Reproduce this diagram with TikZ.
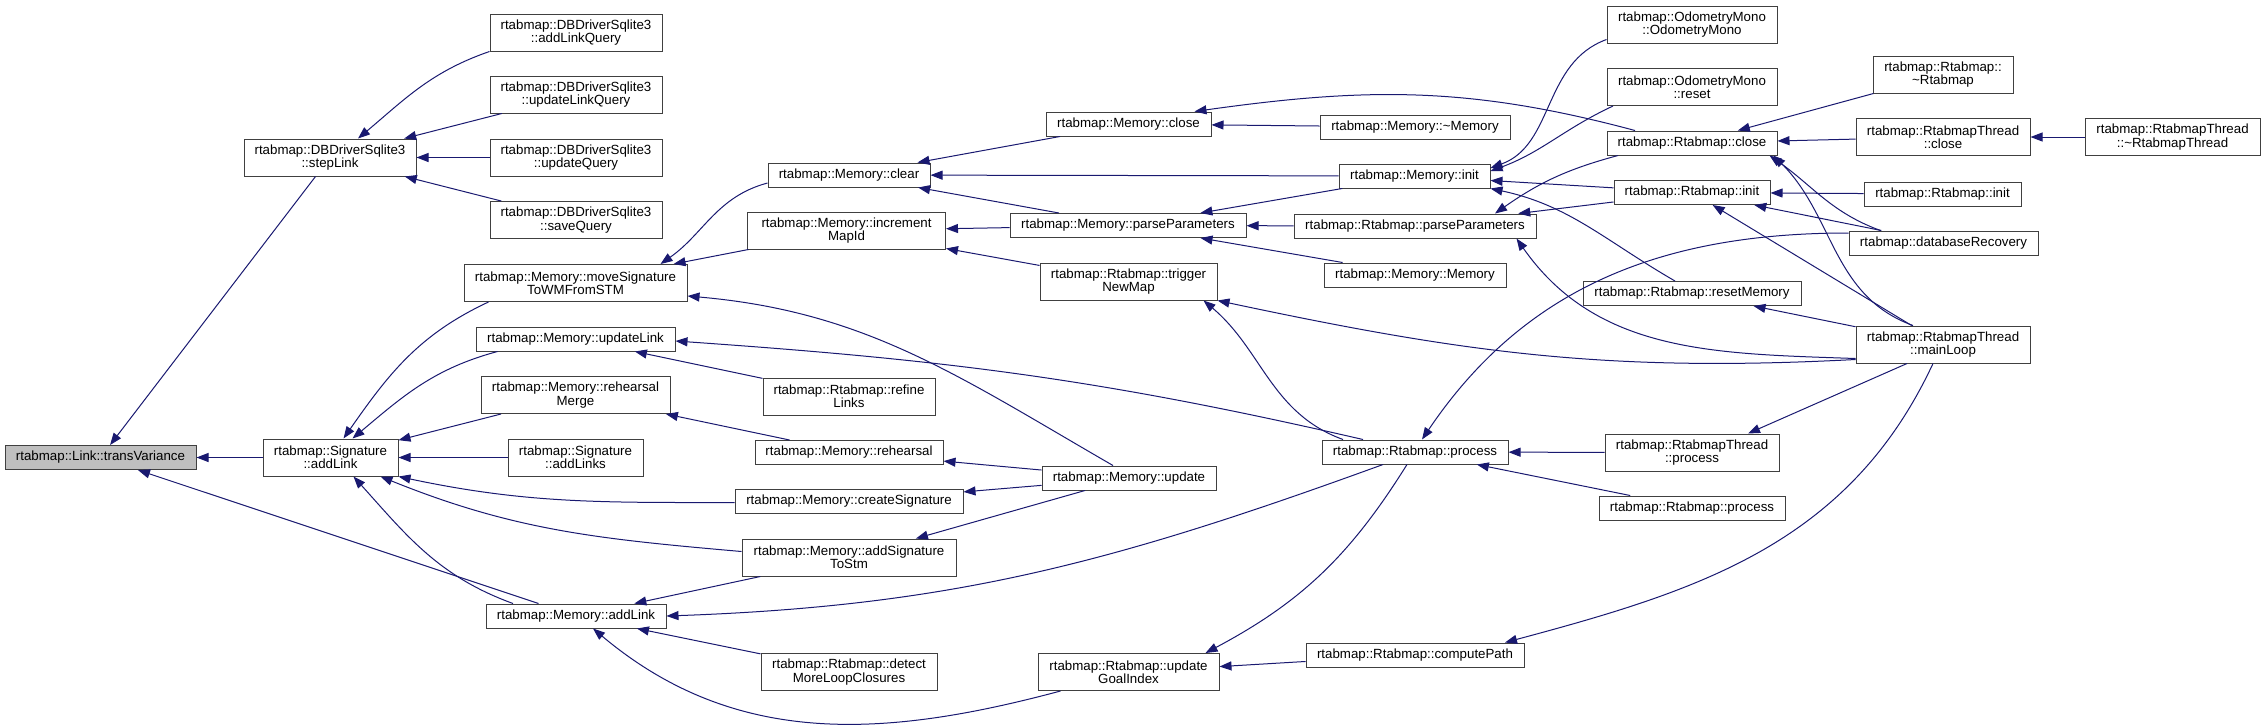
\documentclass[tikz,border=0pt]{standalone}
\usepackage{fontspec}
\setmainfont{Liberation Sans}
\usepackage{tikz}
\definecolor{edgeblue}{RGB}{25,25,112}
\definecolor{boxgray}{RGB}{191,191,191}
\usetikzlibrary{arrows.meta}

\begin{document}
\begin{tikzpicture}[x=1pt, y=1pt, >={Triangle[length=12pt, width=9pt]},
    func/.style={draw=black!75, line width=1pt, inner sep=0pt, align=center,
                 font=\fontsize{13.3}{13.3}\selectfont},
    one/.style={func, minimum height=24pt},
    two/.style={func, minimum height=37pt},
    call/.style={<-, draw=edgeblue, line width=1pt}]
    \useasboundingbox (0,0) rectangle (2265,-724);
    % Gọi đến hàm gốc
    \node[one, fill=boxgray, minimum width=191pt] (tv) at (100.5,-457.5) {rtabmap::Link::transVariance};
    \node[two, minimum width=172pt] (steplink) at (330,-157.5) {rtabmap::DBDriverSqlite3\\::stepLink};
    \node[two, minimum width=135pt] (sigaddlink) at (330.5,-457.5) {rtabmap::Signature\\::addLink};
    \node[one, minimum width=180pt] (memaddlink) at (576,-616) {rtabmap::Memory::addLink};
    % Cột 3
    \node[two, minimum width=172pt] (addlinkq) at (576,-32.5) {rtabmap::DBDriverSqlite3\\::addLinkQuery};
    \node[two, minimum width=172pt] (updlinkq) at (576,-94.5) {rtabmap::DBDriverSqlite3\\::updateLinkQuery};
    \node[two, minimum width=172pt] (updq) at (576,-157.5) {rtabmap::DBDriverSqlite3\\::updateQuery};
    \node[two, minimum width=172pt] (saveq) at (576,-220) {rtabmap::DBDriverSqlite3\\::saveQuery};
    \node[two, minimum width=223pt] (movesig) at (575.5,-283) {rtabmap::Memory::moveSignature\\ToWMFromSTM};
    \node[one, minimum width=199pt] (updlink) at (575.5,-339) {rtabmap::Memory::updateLink};
    \node[two, minimum width=189pt] (rehmerge) at (575.5,-395) {rtabmap::Memory::rehearsal\\Merge};
    \node[two, minimum width=135pt] (addlinks) at (575.5,-457.5) {rtabmap::Signature\\::addLinks};
    % Cột 4
    \node[one, minimum width=162pt] (memclear) at (849,-175) {rtabmap::Memory::clear};
    \node[two, minimum width=198pt] (incmapid) at (846.5,-230.5) {rtabmap::Memory::increment\\MapId};
    \node[two, minimum width=172pt] (refine) at (849,-396.5) {rtabmap::Rtabmap::refine\\Links};
    \node[one, minimum width=188pt] (rehearsal) at (849,-452.5) {rtabmap::Memory::rehearsal};
    \node[one, minimum width=228pt] (createsig) at (849,-501.5) {rtabmap::Memory::createSignature};
    \node[two, minimum width=214pt] (addsig) at (849,-557.5) {rtabmap::Memory::addSignature\\ToStm};
    \node[two, minimum width=176pt] (detect) at (849,-672) {rtabmap::Rtabmap::detect\\MoreLoopClosures};
    % Cột 5
    \node[one, minimum width=165pt] (memclose) at (1128.5,-124) {rtabmap::Memory::close};
    \node[one, minimum width=236pt] (memparse) at (1128,-225.5) {rtabmap::Memory::parseParameters};
    \node[two, minimum width=177pt] (trigger) at (1128.5,-281.5) {rtabmap::Rtabmap::trigger\\NewMap};
    \node[one, minimum width=174pt] (memupdate) at (1129,-478) {rtabmap::Memory::update};
    \node[two, minimum width=181pt] (goalindex) at (1128.5,-672) {rtabmap::Rtabmap::update\\GoalIndex};
    % Cột 6
    \node[one, minimum width=190pt] (memdtor) at (1415,-127) {rtabmap::Memory::\textasciitilde Memory};
    \node[one, minimum width=151pt] (meminit) at (1414.5,-176) {rtabmap::Memory::init};
    \node[one, minimum width=242pt] (rparse) at (1415,-226) {rtabmap::Rtabmap::parseParameters};
    \node[one, minimum width=182pt] (memctor) at (1415,-275) {rtabmap::Memory::Memory};
    \node[one, minimum width=186pt] (process) at (1415,-452) {rtabmap::Rtabmap::process};
    \node[one, minimum width=218pt] (computepath) at (1415,-655) {rtabmap::Rtabmap::computePath};
    % Cột 7
    \node[two, minimum width=170pt] (odomono) at (1692,-24.5) {rtabmap::OdometryMono\\::OdometryMono};
    \node[two, minimum width=170pt] (odoreset) at (1692,-87) {rtabmap::OdometryMono\\::reset};
    \node[one, minimum width=170pt] (rclose) at (1692,-143) {rtabmap::Rtabmap::close};
    \node[one, minimum width=156pt] (rinit) at (1692,-192.5) {rtabmap::Rtabmap::init};
    \node[one, minimum width=218pt] (resetmem) at (1692,-293.5) {rtabmap::Rtabmap::resetMemory};
    \node[two, minimum width=174pt] (threadproc) at (1692,-452.5) {rtabmap::RtabmapThread\\::process};
    \node[one, minimum width=186pt] (rprocess) at (1692,-508) {rtabmap::Rtabmap::process};
    % Cột 8 và 9
    \node[two, minimum width=140pt] (rdtor) at (1943,-74.5) {rtabmap::Rtabmap::\\\textasciitilde Rtabmap};
    \node[two, minimum width=174pt] (threadclose) at (1943,-137) {rtabmap::RtabmapThread\\::close};
    \node[one, minimum width=157pt] (rinit2) at (1942.5,-194) {rtabmap::Rtabmap::init};
    \node[one, minimum width=189pt] (dbrecovery) at (1943.5,-243) {rtabmap::databaseRecovery};
    \node[two, minimum width=174pt] (mainloop) at (1943,-344.5) {rtabmap::RtabmapThread\\::mainLoop};
    \node[two, minimum width=175pt] (threaddtor) at (2172.5,-137) {rtabmap::RtabmapThread\\::\textasciitilde RtabmapThread};
    % Các lời gọi: transVariance, stepLink
    \draw[call] (tv) -- (steplink);
    \draw[call] (tv) -- (sigaddlink);
    \draw[call] (tv) -- (memaddlink);
    \draw[call] ([xshift=28pt]steplink.north) to[out=40,in=199] (addlinkq.south west);
    \draw[call] (steplink) -- (updlinkq);
    \draw[call] (steplink) -- (updq);
    \draw[call] (steplink) -- (saveq);
    % Signature::addLink
    \draw[call] ([xshift=13pt]sigaddlink.north) to[out=55,in=205] ([xshift=-87pt]movesig.south);
    \draw[call] ([xshift=22pt]sigaddlink.north) to[out=40,in=195] ([xshift=-78pt]updlink.south);
    \draw[call] (sigaddlink) -- (rehmerge);
    \draw[call] (sigaddlink) -- (addlinks);
    \draw[call] (sigaddlink.south east) to[out=-12,in=180] ([yshift=-1pt]createsig.west);
    \draw[call] ([xshift=50pt]sigaddlink.south) to[out=-22,in=175] ([yshift=6pt]addsig.west);
    \draw[call] ([xshift=23pt]sigaddlink.south) to[out=-48,in=160] ([xshift=-63pt]memaddlink.north);
    % Memory::addLink
    \draw[call] (memaddlink) -- (addsig);
    \draw[call] (memaddlink.east) to[out=2,in=200] ([xshift=-32pt]process.south);
    \draw[call] (memaddlink) -- (detect);
    \draw[call] ([xshift=17pt]memaddlink.south) to[out=-40,in=195] ([xshift=-68pt]goalindex.south);
    % moveSignatureToWMFromSTM, updateLink, rehearsal
    \draw[call] ([xshift=85pt]movesig.north) to[out=35,in=195] ([yshift=-8pt]memclear.west);
    \draw[call] (movesig) -- (incmapid);
    \draw[call] ([yshift=-13pt]movesig.east) to[out=-5,in=150] ([xshift=-16pt]memupdate.north);
    \draw[call] (updlink) -- (refine);
    \draw[call] ([yshift=-2pt]updlink.east) to[out=-4,in=167] ([xshift=-52pt]process.north);
    \draw[call] (rehmerge) -- (rehearsal);
    \draw[call] (rehearsal) -- (memupdate);
    \draw[call] (createsig) -- (memupdate);
    \draw[call] (addsig) -- (memupdate);
    % Memory::clear, incrementMapId
    \draw[call] (memclear) -- (memclose);
    \draw[call] (memclear) -- (meminit);
    \draw[call] (memclear) -- (memparse);
    \draw[call] (incmapid) -- (memparse);
    \draw[call] (incmapid) -- (trigger);
    % Cột 5
    \draw[call] (memclose) -- (memdtor);
    \draw[call] ([xshift=66pt]memclose.north) to[out=8,in=165] ([xshift=-57pt]rclose.north);
    \draw[call] (memparse) -- (meminit);
    \draw[call] (memparse) -- (rparse);
    \draw[call] (memparse) -- (memctor);
    \draw[call] ([xshift=75pt]trigger.south) to[out=-40,in=160] ([xshift=-72pt]process.north);
    \draw[call] (trigger.south east) to[out=-12,in=183] ([yshift=-15pt]mainloop.west);
    \draw[call] ([xshift=77pt]goalindex.north) to[out=28,in=238] ([xshift=-8pt]process.south);
    \draw[call] (goalindex) -- (computepath);
    % Cột 6
    \draw[call] ([yshift=8pt]meminit.east) to[out=20,in=200] ([yshift=-15pt]odomono.west);
    \draw[call] ([yshift=5pt]meminit.east) to[out=20,in=205] ([xshift=-79pt]odoreset.south);
    \draw[call] (meminit) -- (rinit);
    \draw[call] (meminit.south east) to[out=-12,in=150] ([xshift=-17pt]resetmem.north);
    \draw[call] ([xshift=80pt]rparse.north) to[out=35,in=195] ([xshift=-74pt]rclose.south);
    \draw[call] (rparse) -- (rinit);
    \draw[call] ([xshift=-20pt]rparse.south east) to[out=-55,in=178] ([yshift=-14pt]mainloop.west);
    \draw[call] (process) -- (threadproc);
    \draw[call] (process) -- (rprocess);
    \draw[call] ([xshift=7pt]process.north) to[out=56,in=180] ([yshift=10pt]dbrecovery.west);
    \draw[call] ([xshift=90pt]computepath.north) to[out=15,in=245] ([xshift=-10pt]mainloop.south);
    % Cột 7
    \draw[call] (rclose) -- (rdtor);
    \draw[call] (rclose) -- (threadclose);
    \draw[call] ([xshift=-8pt]rclose.south east) to[out=-35,in=160] ([xshift=-63pt]dbrecovery.north);
    \draw[call] ([xshift=-4pt]rclose.south east) to[out=-45,in=160] ([xshift=-30pt]mainloop.north);
    \draw[call] (rinit) -- (rinit2);
    \draw[call] (rinit) -- (dbrecovery);
    \draw[call] (rinit) -- (mainloop);
    \draw[call] (resetmem) -- (mainloop);
    \draw[call] ([xshift=56pt]threadproc.north) -- ([xshift=-36pt]mainloop.south);
    \draw[call] (threadclose) -- (threaddtor);
\end{tikzpicture}
\end{document}
